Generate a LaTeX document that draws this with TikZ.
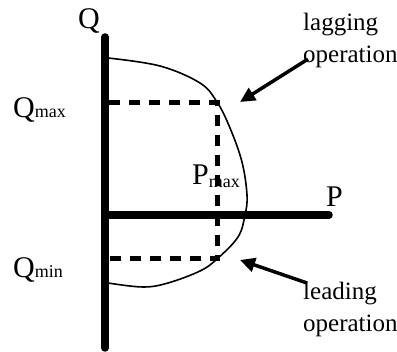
\documentclass[tikz,border=0pt]{standalone}
\usepackage{fontspec}
\setmainfont{Liberation Serif}
\usetikzlibrary{arrows.meta, calc}

\newcommand{\axfont}{\fontsize{30}{32}\selectfont}
\newcommand{\subfont}{\fontsize{18}{20}\selectfont}
\newcommand{\notefont}{\fontsize{25}{32}\selectfont}

\begin{document}
\begin{tikzpicture}[
        x=1pt, y=-1pt,
        % Define styles
        axis/.style={line width=7.5pt, line cap=round},
        limit/.style={line width=5pt, dash pattern=on 11pt off 9pt},
        region/.style={line width=1.6pt},
        pointer/.style={-{Triangle[length=15pt, width=14pt]}, line width=3.5pt},
        axlabel/.style={inner sep=0pt, font=\axfont, anchor=base west},
        note/.style={inner sep=0pt, font=\notefont, align=left, anchor=north west}
    ]
    \useasboundingbox (0,0) rectangle (397,352);

    % 1. Axes
    \coordinate (qtop) at (105,37);
    \coordinate (qbot) at (105,348);
    \coordinate (origin) at (105,215);
    \coordinate (pend) at (329,215);
    \draw[axis] (qtop) -- (qbot);
    \draw[axis] (origin) -- (pend);

    % 2. Axis labels
    \node[axlabel] (qlab) at (78,29) {Q};
    \node[axlabel] (plab) at (326,207) {P};
    \node[axlabel] (qmax) at (13,118) {Q{\subfont max}};
    \node[axlabel] (qmin) at (13,278) {Q{\subfont min}};
    \node[axlabel] (pmax) at (192,185) {P\raisebox{-3pt}{\subfont max}};

    % 3. Capability region
    \draw[region] plot[smooth, tension=0.6] coordinates {(108,58) (160,66) (200,83) (217,102) (230,128) (242,162) (247,195) (245,215) (238,237) (217,259) (200,271) (168,283) (143,287) (108,283)};

    % 4. Limits
    \coordinate (maxleft) at (109,103);
    \coordinate (maxright) at (217,103);
    \coordinate (minright) at (217,259);
    \coordinate (minleft) at (109,259);
    \draw[limit] (maxleft) -- (maxright) -- (minright) -- (minleft);

    % 5. Annotations
    \node[note] (lag) at (303,13) {lagging\\operation};
    \node[note] (lead) at (303,282) {leading\\operation};
    \coordinate (lagtip) at (240,102);
    \coordinate (leadtip) at (240,260);
    \draw[pointer] ($(lag.south west)+(5,-9)$) -- (lagtip);
    \draw[pointer] ($(lead.north west)+(4,1)$) -- (leadtip);

\end{tikzpicture}
\end{document}
